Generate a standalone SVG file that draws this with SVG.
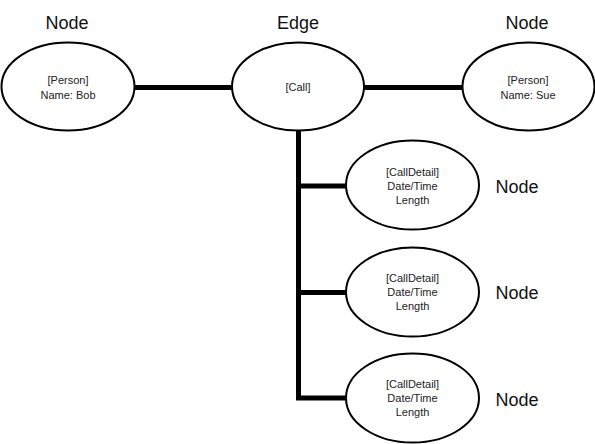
<svg xmlns="http://www.w3.org/2000/svg" width="595" height="444" viewBox="0 0 595 444">
<style>
.n{fill:#fff;stroke:#000;stroke-width:2}
.c{stroke:#000;stroke-width:5;fill:none}
.t{font-family:"Liberation Sans",Arial,sans-serif;font-size:11px;fill:#222;text-anchor:middle}
.h{font-family:"Liberation Sans",Arial,sans-serif;font-size:18px;fill:#111;text-anchor:middle}
</style>
<rect width="595" height="444" fill="#fff"/>
<g id="connectors">
<line class="c" x1="134" y1="87.5" x2="233" y2="87.5"/>
<line class="c" x1="363" y1="87.5" x2="463" y2="87.5"/>
<polyline class="c" points="298.5,129 298.5,398 347,398"/>
<line class="c" x1="298.5" y1="186" x2="347" y2="186"/>
<line class="c" x1="298.5" y1="292.5" x2="347" y2="292.5"/>
</g>
<g id="labels">
<text class="h" x="67" y="29">Node</text>
<text class="h" x="298" y="29">Edge</text>
<text class="h" x="527" y="29">Node</text>
<text class="h" x="517" y="193">Node</text>
<text class="h" x="517" y="299">Node</text>
<text class="h" x="517" y="406">Node</text>
</g>
<g id="bob">
<ellipse class="n" cx="68" cy="86.5" rx="66.5" ry="44"/>
<text class="t" x="68" y="84">[Person]</text>
<text class="t" x="68" y="99">Name: Bob</text>
</g>
<g id="call">
<ellipse class="n" cx="298" cy="86.5" rx="66" ry="44"/>
<text class="t" x="298" y="91">[Call]</text>
</g>
<g id="sue">
<ellipse class="n" cx="528.5" cy="86.5" rx="66" ry="44"/>
<text class="t" x="528" y="84">[Person]</text>
<text class="t" x="528" y="99">Name: Sue</text>
</g>
<g id="detail1">
<ellipse class="n" cx="412.5" cy="185" rx="66.5" ry="44.5"/>
<text class="t" x="412.5" y="176">[CallDetail]</text>
<text class="t" x="412.5" y="190">Date/Time</text>
<text class="t" x="412.5" y="204">Length</text>
</g>
<g id="detail2">
<ellipse class="n" cx="412.5" cy="292" rx="66.5" ry="44.5"/>
<text class="t" x="412.5" y="282">[CallDetail]</text>
<text class="t" x="412.5" y="296">Date/Time</text>
<text class="t" x="412.5" y="310">Length</text>
</g>
<g id="detail3">
<ellipse class="n" cx="412.5" cy="398" rx="66.5" ry="44.5"/>
<text class="t" x="412.5" y="388">[CallDetail]</text>
<text class="t" x="412.5" y="402">Date/Time</text>
<text class="t" x="412.5" y="416">Length</text>
</g>
</svg>
